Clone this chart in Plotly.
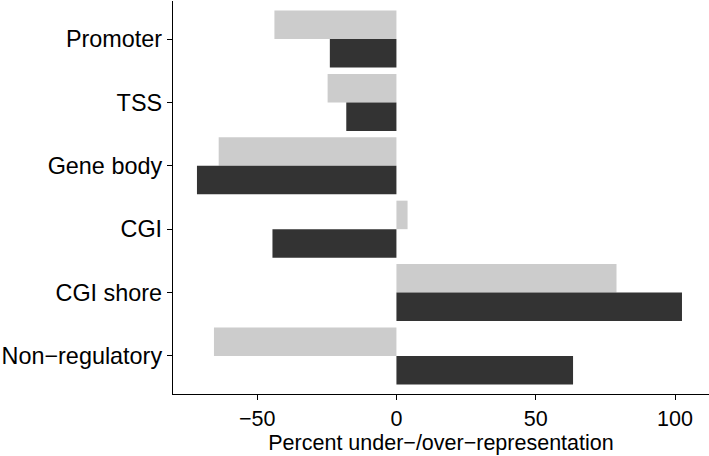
import plotly.graph_objects as go

categories = ["Promoter", "TSS", "Gene body", "CGI", "CGI shore", "Non\u2212regulatory"]
series_light = [-43.8, -24.7, -63.8, 4.0, 79.0, -65.5]
series_dark = [-23.9, -18.0, -71.6, -44.5, 102.5, 63.4]
x_tick_vals = [-50, 0, 50, 100]
x_tick_text = ["\u221250", "0", "50", "100"]
x_title = "Percent under\u2212/over\u2212representation"

font_family = "Liberation Sans, Arial, Helvetica, sans-serif"

fig = go.Figure()
fig.add_trace(go.Bar(y=categories, x=series_light, orientation="h",
                     marker=dict(color="#cccccc", line=dict(width=0)),
                     showlegend=False))
fig.add_trace(go.Bar(y=categories, x=series_dark, orientation="h",
                     marker=dict(color="#333333", line=dict(width=0)),
                     showlegend=False))

fig.update_layout(
    width=709, height=456,
    margin=dict(l=173, r=0, t=1, b=62, autoexpand=False),
    barmode="group", bargap=0.1, bargroupgap=0,
    plot_bgcolor="white", paper_bgcolor="white",
    font=dict(family=font_family, color="black"),
)
fig.update_xaxes(
    range=[-80.2, 112.2], tickvals=x_tick_vals, ticktext=x_tick_text,
    showgrid=False, zeroline=False, automargin=False,
    showline=True, linecolor="black", linewidth=1.4,
    ticks="outside", ticklen=5, tickwidth=1.4, tickcolor="black",
    tickfont=dict(size=21.5, color="black"),
    title=dict(text=x_title, font=dict(size=21.5, color="black"), standoff=1),
)
fig.update_yaxes(
    categoryorder="array", categoryarray=categories,
    range=[5.6, -0.6],
    showgrid=False, zeroline=False, automargin=False,
    showline=True, linecolor="black", linewidth=1.4,
    ticks="outside", ticklen=5, tickwidth=1.4, tickcolor="black",
    tickfont=dict(size=23.4, color="black"),
)

fig.write_html("out.html",
               config={"displayModeBar": False},
               post_script="document.body.style.margin='0';document.body.style.overflow='hidden';")
